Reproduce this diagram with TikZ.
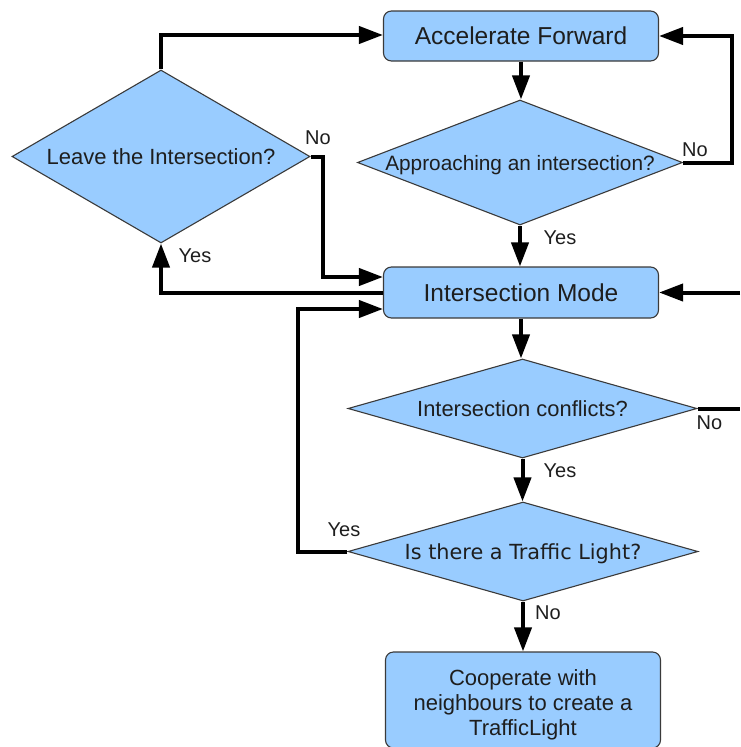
\documentclass[tikz,border=0pt]{standalone}
\usepackage{fontspec}
\setmainfont{Liberation Sans}
\newfontfamily\dvsans{DejaVu Sans}
\usetikzlibrary{shapes.geometric,arrows.meta}

\definecolor{boxfill}{HTML}{99CCFF}
\definecolor{boxline}{HTML}{3A3A3A}
\definecolor{ink}{HTML}{1E1E1E}

\tikzset{
  stepbox/.style={rectangle, rounded corners=8pt, draw=boxline, line width=1.1pt,
    fill=boxfill, text=ink, inner sep=0pt, minimum width=275pt, align=center},
  decision/.style={diamond, draw=boxline, line width=1.1pt, fill=boxfill,
    text=ink, inner sep=0pt, text depth=0pt},
  flow/.style={line width=4pt, -{Triangle[length=24pt,width=17pt]}},
  plainflow/.style={line width=4pt},
  lbl/.style={text=ink, inner sep=0pt, font=\fontsize{20}{24}\selectfont}
}

\begin{document}
\begin{tikzpicture}[x=1pt,y=-1pt]
\useasboundingbox (0,0) rectangle (740,747);

% process boxes
\node[stepbox, minimum height=50pt, font=\fontsize{24.5}{28}\selectfont]
  (acc) at (521,36) {Accelerate Forward};
\node[stepbox, minimum height=51pt, font=\fontsize{24.5}{28}\selectfont]
  (im) at (521,292.5) {Intersection Mode};
\node[stepbox, minimum height=96pt, minimum width=275pt]
  (coop) at (523,700) {};
\node[text=ink, inner sep=0pt, align=center, font=\fontsize{22}{25}\selectfont]
  (cooptext) at ([yshift=-4.5pt]coop.center)
  {Cooperate with\\neighbours to create a\\TrafficLight};

% decisions
\node[decision, aspect=2.6, minimum width=325pt, minimum height=125pt,
  font=\fontsize{20.8}{24}\selectfont]
  (appr) at (520,162.5) {Approaching an intersection?};
\node[decision, aspect=1.72, minimum width=298pt, minimum height=173pt,
  font=\fontsize{22}{26}\selectfont]
  (leave) at (161,156.5) {Leave the Intersection?};
\node[decision, aspect=3.5, minimum width=349pt, minimum height=99pt,
  font=\fontsize{21.9}{26}\selectfont]
  (conf) at (522.5,408.5) {Intersection conflicts?};
\node[decision, aspect=3.5, minimum width=350pt, minimum height=99pt,
  font=\dvsans\fontsize{20.8}{24}\selectfont]
  (light) at (523,551.5) {Is there a Traffic Light?};

% loose ends at the right border
\coordinate (imin) at (740,292.5);
\coordinate (confout) at (740,408.5);

% connectors
\draw[flow] (acc.south) -- (acc.south |- appr.north);
\draw[flow] (appr.east) -- ++(49,0) |- (acc.east);
\draw[flow] (appr.south) -- (appr.south |- im.north);
\draw[flow] (leave.north) |- ([yshift=1pt]acc.west);
\draw[flow] (leave.east) -- ++(12,0) |- ([yshift=15.5pt]im.west);
\draw[flow] ([yshift=-0.5pt]im.west) -| (leave.south);
\draw[flow] (light.west) -- ++(-49,0) |- ([yshift=-16.5pt]im.west);
\draw[flow] (imin) -- (im.east);
\draw[flow] (im.south) -- (im.south |- conf.north);
\draw[plainflow] (conf.east) -- (confout);
\draw[flow] (conf.south) -- (conf.south |- light.north);
\draw[flow] (light.south) -- (light.south |- coop.north);

% branch labels
\node[lbl] (l1) at (695,150) {No};
\node[lbl] (l2) at (560,238) {Yes};
\node[lbl] (l3) at (318,138) {No};
\node[lbl] (l4) at (195,256) {Yes};
\node[lbl] (l5) at (709.5,423) {No};
\node[lbl] (l6) at (560,471) {Yes};
\node[lbl] (l7) at (344,530) {Yes};
\node[lbl] (l8) at (548,613) {No};
\end{tikzpicture}
\end{document}
